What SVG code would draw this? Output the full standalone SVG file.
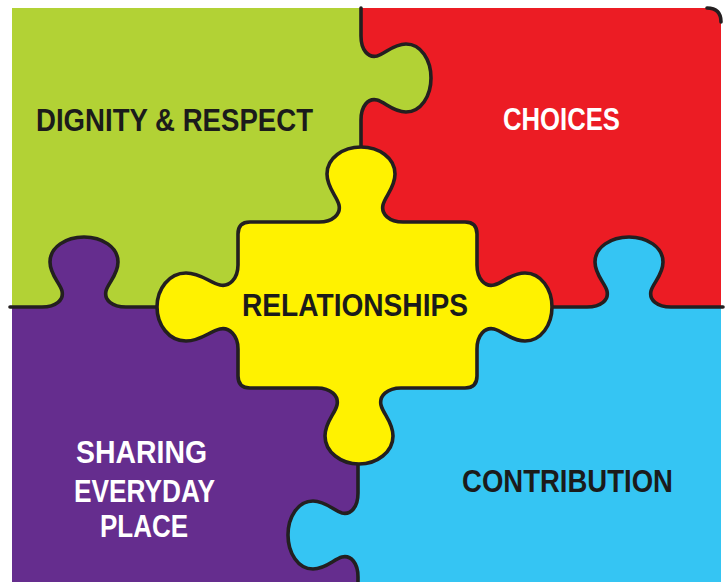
<svg xmlns="http://www.w3.org/2000/svg" width="725" height="582" viewBox="0 0 725 582">
<style>
.edge{fill:none;stroke:#231f20;stroke-width:3.6;stroke-linejoin:round;stroke-linecap:round}
.lbl{font-family:"Liberation Sans",Arial,sans-serif;font-weight:bold;font-size:31px}
.dark{fill:#1b1b1b}
.light{fill:#ffffff}
</style>
<rect width="725" height="582" fill="#ffffff"/>
<g id="dignity-respect">
<path fill="#b2d235" d="M12,8 H361 V36 C361,50 368,58 377,56 C385,54 393,44 406,44 C421,44 431,60 431,78 C431,96 421,112 406,112 C393,112 385,102 377,100 C368,98 361,106 361,120 V307 H126 C112,307 104,300 106,291 C108,283 118,275 118,262 C118,247 102,237 84,237 C66,237 50,247 50,262 C50,275 60,283 62,291 C64,300 56,307 42,307 H12 Z"/>
<text class="lbl dark" x="36" y="131" textLength="277" lengthAdjust="spacingAndGlyphs">DIGNITY &amp; RESPECT</text>
</g>
<g id="choices">
<path fill="#ec1c24" d="M361,8 H709 Q721,8 721,20 V307 H671 C657,307 649,300 651,291 C653,283 663,275 663,262 C663,247 647,237 629,237 C611,237 595,247 595,262 C595,275 605,283 607,291 C609,300 601,307 587,307 H361 V120 C361,106 368,98 377,100 C385,102 393,112 406,112 C421,112 431,96 431,78 C431,60 421,44 406,44 C393,44 385,54 377,56 C368,58 361,50 361,36 Z"/>
<text class="lbl light" x="503" y="130" textLength="117" lengthAdjust="spacingAndGlyphs">CHOICES</text>
</g>
<g id="contribution">
<path fill="#35c5f3" d="M361,307 H587 C601,307 609,300 607,291 C605,283 595,275 595,262 C595,247 611,237 629,237 C647,237 663,247 663,262 C663,275 653,283 651,291 C649,300 657,307 671,307 H721 V582 H358 V577 C358,563 351,555 342,557 C334,559 326,569 313,569 C298,569 288,553 288,535 C288,517 298,501 313,501 C326,501 334,511 342,513 C351,515 358,507 358,493 V400 Z"/>
<text class="lbl dark" x="462" y="492" textLength="211" lengthAdjust="spacingAndGlyphs">CONTRIBUTION</text>
</g>
<g id="sharing-everyday-place">
<path fill="#652d8e" d="M12,307 H42 C56,307 64,300 62,291 C60,283 50,275 50,262 C50,247 66,237 84,237 C102,237 118,247 118,262 C118,275 108,283 106,291 C104,300 112,307 126,307 H361 L358,400 V493 C358,507 351,515 342,513 C334,511 326,501 313,501 C298,501 288,517 288,535 C288,553 298,569 313,569 C326,569 334,559 342,557 C351,555 358,563 358,577 V582 H12 Z"/>
<text class="lbl light" x="76" y="463" textLength="131" lengthAdjust="spacingAndGlyphs">SHARING</text>
<text class="lbl light" x="74" y="502" textLength="141" lengthAdjust="spacingAndGlyphs">EVERYDAY</text>
<text class="lbl light" x="100" y="537" textLength="88" lengthAdjust="spacingAndGlyphs">PLACE</text>
</g>
<g id="connectors">
<path class="edge" d="M361,8 V36 C361,50 368,58 377,56 C385,54 393,44 406,44 C421,44 431,60 431,78 C431,96 421,112 406,112 C393,112 385,102 377,100 C368,98 361,106 361,120 V200"/>
<path class="edge" d="M358,440 V493 C358,507 351,515 342,513 C334,511 326,501 313,501 C298,501 288,517 288,535 C288,553 298,569 313,569 C326,569 334,559 342,557 C351,555 358,563 358,577 V584"/>
<path class="edge" d="M10,307 H42 C56,307 64,300 62,291 C60,283 50,275 50,262 C50,247 66,237 84,237 C102,237 118,247 118,262 C118,275 108,283 106,291 C104,300 112,307 126,307 H200"/>
<path class="edge" d="M520,307 H587 C601,307 609,300 607,291 C605,283 595,275 595,262 C595,247 611,237 629,237 C647,237 663,247 663,262 C663,275 653,283 651,291 C649,300 657,307 671,307 H723"/>
<path class="edge" d="M707,8 Q721,8 721,22"/>
</g>
<g id="relationships">
<path class="edge" style="fill:#fff200" d="M250,222 H319 C333,222 341,214 339,205 C337,196 327,188 327,174 C327,158 343,147 361,147 C379,147 395,158 395,174 C395,188 385,196 383,205 C381,214 389,222 403,222 H465 Q477,222 477,234 V265 C477,279 485,287 494,285 C503,283 511,273 525,273 C541,273 552,289 552,307 C552,325 541,341 525,341 C511,341 503,331 494,329 C485,327 477,335 477,349 V376 Q477,388 465,388 H401 C387,388 379,396 381,405 C383,414 393,422 393,436 C393,452 377,464 359,464 C341,464 325,452 325,436 C325,422 335,414 337,405 C339,396 331,388 317,388 H250 Q238,388 238,376 V349 C238,335 229,327 220,329 C210,331 201,341 186,341 C169,341 157,325 157,307 C157,289 169,273 186,273 C201,273 210,283 220,285 C229,287 238,279 238,265 V234 Q238,222 250,222 Z"/>
<text class="lbl dark" x="242" y="316" textLength="226" lengthAdjust="spacingAndGlyphs" style="font-size:32px">RELATIONSHIPS</text>
</g>
</svg>
